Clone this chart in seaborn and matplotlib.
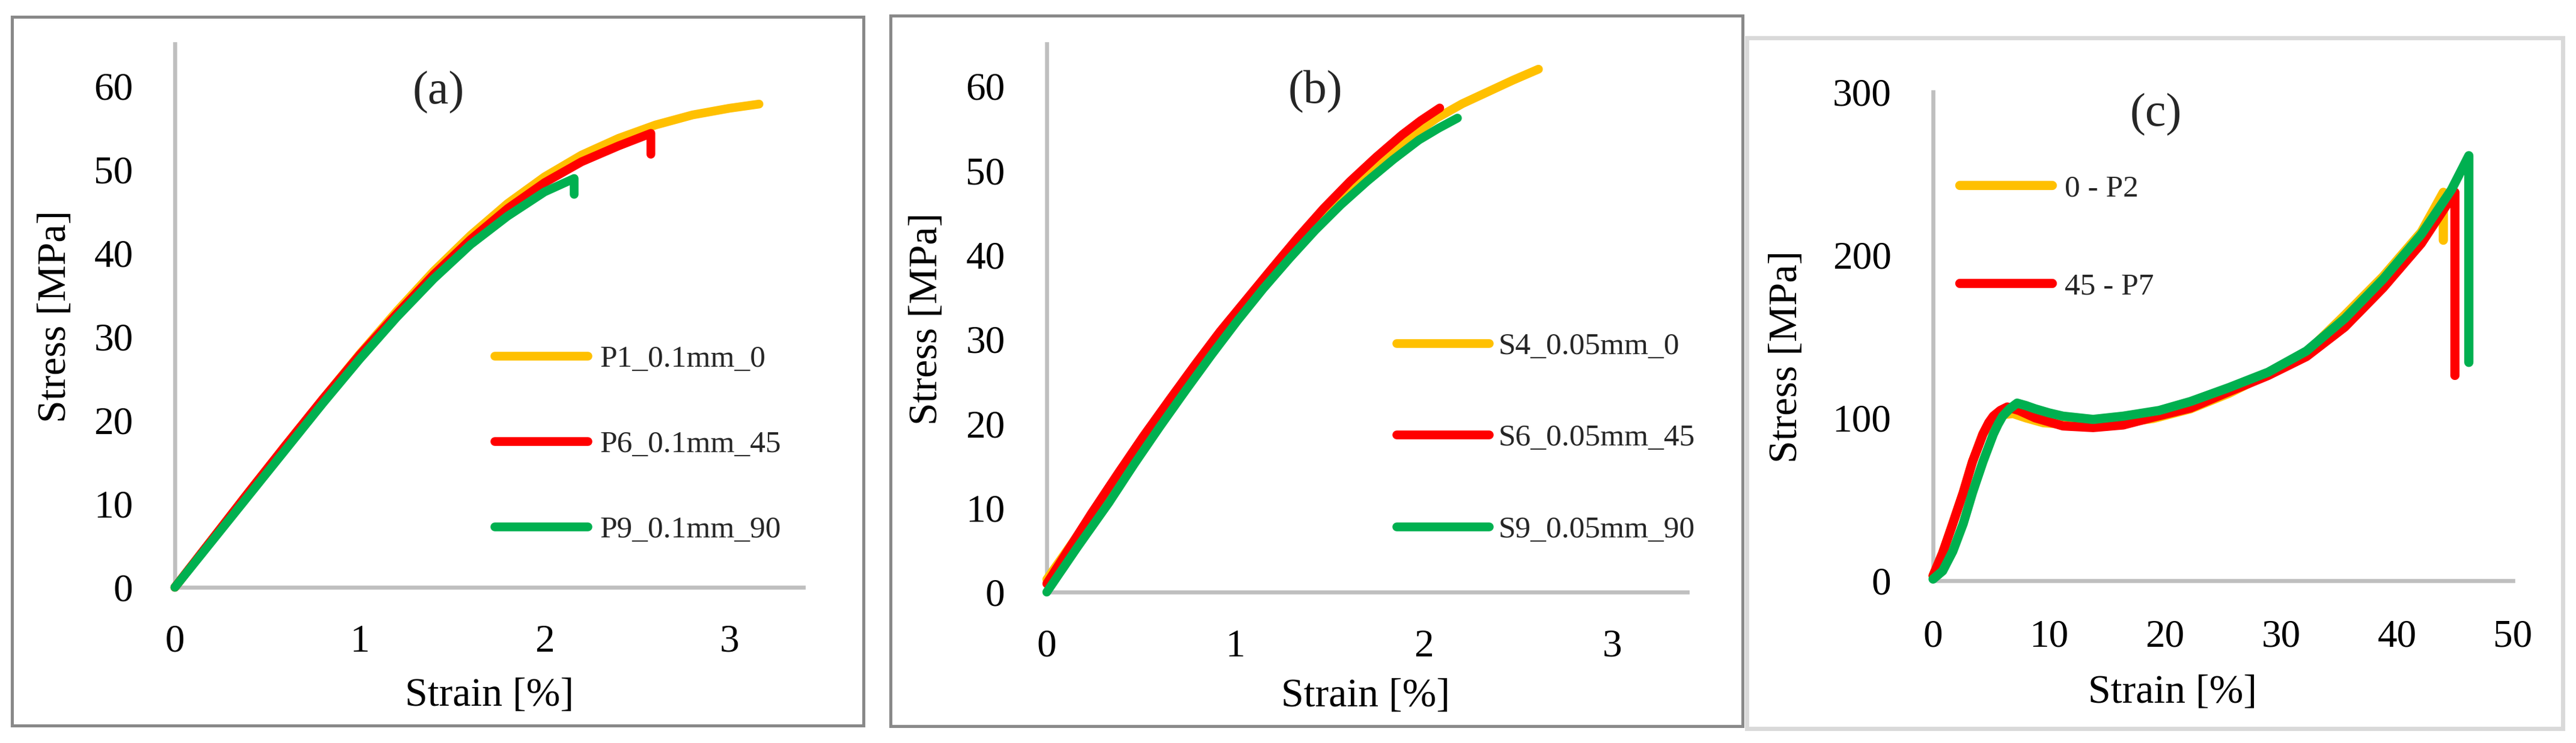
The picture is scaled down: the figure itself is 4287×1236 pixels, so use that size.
import matplotlib
matplotlib.use("Agg")
import matplotlib.pyplot as plt
import seaborn as sns
from matplotlib.patches import Rectangle

# ---- data ----
# (a) 0.1 mm layers
p1_strain = [0, 0.2, 0.4, 0.6, 0.8, 1.0, 1.2, 1.4, 1.6, 1.8, 2.0, 2.2, 2.4, 2.6, 2.8, 3.0, 3.16]
p1_stress = [0, 5.7, 11.4, 17.0, 22.5, 27.9, 33.0, 37.8, 42.1, 45.9, 49.1, 51.7, 53.7, 55.3,
             56.5, 57.3, 57.8]
p6_strain = [0, 0.2, 0.4, 0.6, 0.8, 1.0, 1.2, 1.4, 1.6, 1.8, 2.0, 2.2, 2.4, 2.575, 2.575]
p6_stress = [0, 5.7, 11.4, 17.0, 22.5, 27.8, 32.7, 37.4, 41.6, 45.3, 48.4, 50.9, 52.8, 54.3, 51.8]
p9_strain = [0, 0.2, 0.4, 0.6, 0.8, 1.0, 1.2, 1.4, 1.6, 1.8, 2.0, 2.16, 2.16]
p9_stress = [0, 5.5, 11.0, 16.5, 22.0, 27.3, 32.3, 36.9, 41.0, 44.4, 47.3, 48.9, 47.0]

# (b) 0.05 mm layers
s4_strain = [0, 0.21, 0.42, 0.56, 0.70, 0.835, 0.97, 1.105, 1.24, 1.38, 1.52, 1.655, 1.79,
             1.93, 2.07, 2.205, 2.34, 2.475, 2.61]
s4_stress = [1.5, 8.2, 14.8, 19.0, 23.2, 27.25, 31.2, 35.1, 38.8, 42.4, 45.8, 48.8, 51.5,
             54.0, 56.2, 57.9, 59.3, 60.7, 62.0]
s6_strain = [0, 0.236, 0.373, 0.51, 0.648, 0.785, 0.92, 1.06, 1.2, 1.335, 1.47, 1.61, 1.75,
             1.885, 1.985, 2.086]
s6_stress = [1.0, 9.3, 13.9, 18.4, 22.7, 26.9, 30.9, 34.7, 38.5, 42.1, 45.5, 48.7, 51.6,
             54.2, 55.9, 57.4]
s9_strain = [0, 0.165, 0.33, 0.465, 0.60, 0.74, 0.877, 1.013, 1.15, 1.29, 1.425, 1.56, 1.70,
             1.84, 1.975, 2.08, 2.18]
s9_stress = [0, 5.4, 10.6, 15.2, 19.6, 24.0, 28.2, 32.2, 36.0, 39.6, 42.9, 45.9, 48.7,
             51.3, 53.6, 55.0, 56.2]

# (c)
c0_strain = [0, 0.83, 1.7, 2.6, 3.4, 4.3, 4.8, 5.2, 5.6, 6.0, 6.9, 8.0, 9.5, 11.2, 13.8,
             16.4, 19.0, 22.2, 25.5, 28.9, 32.2, 35.5, 38.8, 42.1, 44.0, 44.0]
c0_stress = [3, 17, 35, 54, 73, 90, 96, 99, 101, 102, 102.6, 100, 97, 96, 95.5,
             97, 99.6, 105.5, 115, 127, 140, 163, 186.7, 214, 238.4, 209]
c45_strain = [0, 0.83, 1.7, 2.6, 3.4, 4.3, 4.8, 5.2, 5.8, 6.4, 7.4, 8.8, 11.2, 13.8, 16.4,
              19.0, 22.2, 25.5, 28.9, 32.2, 35.5, 38.8, 42.1, 45.0, 45.0]
c45_stress = [3, 17, 35, 54, 73, 90, 97, 101, 104.5, 106.6, 104.5, 100, 95, 94, 95.6,
              100.4, 106, 116, 126, 137.6, 155.7, 179.7, 207, 238.4, 126]
c90_strain = [0, 0.83, 1.7, 2.6, 3.4, 4.3, 5.2, 5.6, 6.0, 6.6, 7.25, 8.0, 8.8, 10.0, 11.2,
              13.8, 16.4, 19.5, 22.2, 25.5, 28.9, 32.2, 35.5, 38.8, 42.1, 44.7, 46.2, 46.2]
c90_stress = [1, 6, 18, 35, 54, 73, 90, 96, 101, 105.5, 109, 107.5, 105.5, 103, 101,
              99, 101, 104.5, 110, 118.5, 128, 141, 160.9, 185, 212.6, 240, 260.9, 134]

YEL, RED, GRN = "#FFC000", "#FF0000", "#00B050"

sns.set_theme(style="white")
plt.rcParams["font.family"] = ["Liberation Serif", "DejaVu Serif"]

W, H = 4287, 1236
fig = plt.figure(figsize=(W / 100, H / 100), dpi=100)


def box(x0, y0, x1, y1, color, lw):
    fig.add_artist(Rectangle((x0 / W, 1 - y1 / H), (x1 - x0) / W, (y1 - y0) / H,
                             transform=fig.transFigure, fill=False, ec=color, lw=lw))


def px_axes(x0, x1, ytop, ybot):
    return fig.add_axes([x0 / W, 1 - ybot / H, (x1 - x0) / W, (ybot - ytop) / H])


def style(ax, xlim, ylim, xticks, yticks, ypad, xpad):
    ax.set_xlim(*xlim)
    ax.set_ylim(*ylim)
    ax.set_xticks(xticks)
    ax.set_yticks(yticks)
    for s in ["top", "right"]:
        ax.spines[s].set_visible(False)
    for s in ["left", "bottom"]:
        ax.spines[s].set_color("#BFBFBF")
        ax.spines[s].set_linewidth(4.8)
        ax.spines[s].set_zorder(1)
    ax.tick_params(axis="y", length=0, pad=ypad, labelsize=47, labelcolor="black")
    ax.tick_params(axis="x", length=0, pad=xpad, labelsize=47, labelcolor="black")
    ax.set_facecolor("none")


def curves(ax, series, lw):
    for x, y, c, lab in series:
        sns.lineplot(x=x, y=y, ax=ax, color=c, lw=lw, sort=False, estimator=None,
                     label=lab, solid_capstyle="round", solid_joinstyle="round",
                     clip_on=False, zorder=3)


def legend(ax, x, y, spacing, pad, lw):
    h, l = ax.get_legend_handles_labels()
    leg = ax.legend(h, l, loc="center left", bbox_to_anchor=(x, y), frameon=False,
                    fontsize=37, handlelength=3.0, handletextpad=pad,
                    labelspacing=spacing, borderpad=0, borderaxespad=0)
    for line in leg.get_lines():
        line.set_solid_capstyle("round")
        line.set_linewidth(lw)


# frames
box(20, 28, 1437, 1207, "#898989", 3.6)
box(1482, 26, 2900, 1208, "#898989", 3.6)
box(2907, 63, 4265, 1212, "#D9D9D9", 5.0)

# (a)
ax1 = px_axes(291, 1337, 73, 977)
curves(ax1, [(p1_strain, p1_stress, YEL, "P1_0.1mm_0"),
             (p6_strain, p6_stress, RED, "P6_0.1mm_45"),
             (p9_strain, p9_stress, GRN, "P9_0.1mm_90")], 10.5)
style(ax1, (0, 3.4), (0, 65), [0, 1, 2, 3], range(0, 61, 10), 50, 44)
ax1.text(1.426, 59.2, "(a)", fontsize=56, ha="center", va="center")
legend(ax1, 0.509, 0.263, 1.85, 0.4, 10.5)

# (b)
ax2 = px_axes(1742, 2808, 73, 985)
curves(ax2, [(s4_strain, s4_stress, YEL, "S4_0.05mm_0"),
             (s6_strain, s6_stress, RED, "S6_0.05mm_45"),
             (s9_strain, s9_stress, GRN, "S9_0.05mm_90")], 10.5)
style(ax2, (0, 3.4), (0, 65), [0, 1, 2, 3], range(0, 61, 10), 50, 44)
ax2.text(1.426, 59.3, "(b)", fontsize=56, ha="center", va="center")
legend(ax2, 0.546, 0.281, 2.05, 0.3, 10.5)

# (c)
ax3 = px_axes(3217, 4182, 153, 966)
curves(ax3, [(c0_strain, c0_stress, YEL, "0 - P2"),
             (c45_strain, c45_stress, RED, "45 - P7"),
             (c90_strain, c90_stress, GRN, "_nolegend_")], 11)
style(ax3, (0, 50), (0, 300), range(0, 51, 10), [0, 100, 200, 300], 50, 46)
ax3.text(19.2, 286, "(c)", fontsize=56, ha="center", va="center")
legend(ax3, 0.0456, 0.702, 2.25, 0.4, 11)

# axis titles
for ax, ylab, xlab in [(ax1, (-0.190, 0.498), (0.50, -0.200)),
                       (ax2, (-0.187, 0.498), (0.498, -0.190)),
                       (ax3, (-0.252, 0.458), (0.413, -0.230))]:
    ax.set_ylabel("Stress [MPa]", fontsize=49, color="black")
    ax.set_xlabel("Strain [%]", fontsize=49, color="black")
    ax.yaxis.set_label_coords(*ylab)
    ax.xaxis.set_label_coords(*xlab)
    ax.yaxis.label.set_va("center")
    ax.xaxis.label.set_va("center")

fig.savefig("out.png", dpi=100, facecolor="white")
